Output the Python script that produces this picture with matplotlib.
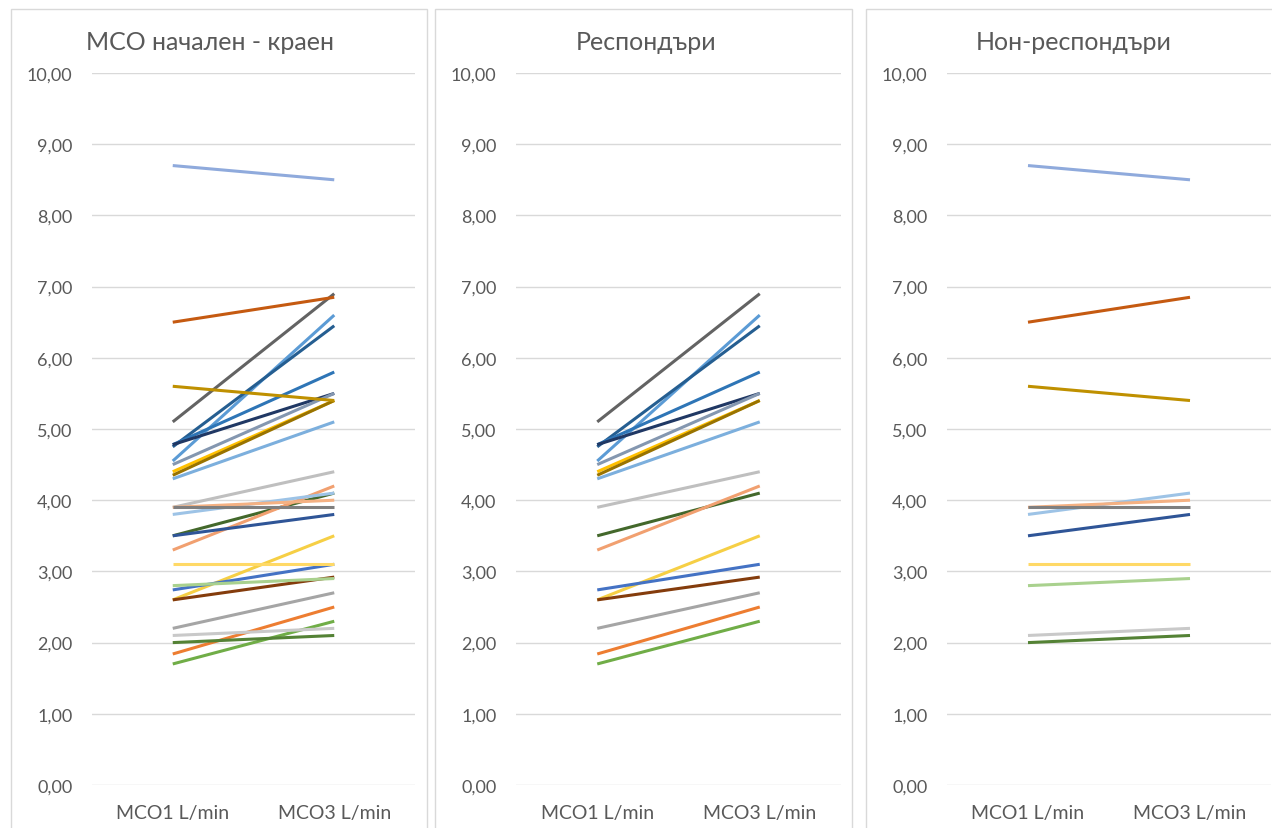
import matplotlib
matplotlib.use("Agg")
import matplotlib.pyplot as plt
from matplotlib.patches import Rectangle
from matplotlib.ticker import FuncFormatter

plt.rcParams['font.family'] = ['Lato', 'Noto Sans', 'DejaVu Sans']

# ---- data ----
categories = ["MCO1 L/min", "MCO3 L/min"]

# responders: start (MCO1) and end (MCO3) values
resp_mco1 = [5.10, 4.55, 4.75, 4.78, 4.78, 4.50, 4.40, 4.35, 4.30,
             3.90, 3.50, 3.30, 2.60, 2.74, 2.60, 2.20, 1.84, 1.70]
resp_mco3 = [6.90, 6.60, 6.45, 5.80, 5.50, 5.50, 5.40, 5.40, 5.10,
             4.40, 4.10, 4.20, 3.50, 3.10, 2.92, 2.70, 2.50, 2.30]
resp_colors = ["#636363", "#5B9BD5", "#255E91", "#2E75B6", "#203864", "#8497B0",
               "#FFC000", "#997300", "#7CAFDD", "#BFBFBF", "#43682B", "#F1A070",
               "#F6CF45", "#4472C4", "#843C0C", "#A5A5A5", "#ED7D31", "#70AD47"]

# non-responders
non_mco1 = [8.70, 6.50, 5.60, 3.80, 3.90, 3.90, 3.50, 3.10, 2.80, 2.10, 2.00]
non_mco3 = [8.50, 6.85, 5.40, 4.10, 4.00, 3.90, 3.80, 3.10, 2.90, 2.20, 2.10]
non_colors = ["#8FAADC", "#C55A11", "#BF9000", "#9DC3E6", "#F4B183", "#7F7F7F",
              "#2F5597", "#FFD966", "#A9D18E", "#C9C9C9", "#548235"]

titles = ["МСО начален - краен", "Респондъри", "Нон-респондъри"]
y_ticks = [0, 1, 2, 3, 4, 5, 6, 7, 8, 9, 10]

# ---- layout (pixels) ----
W, H = 1272, 829
fig = plt.figure(figsize=(W / 100, H / 100), dpi=100)
fig.patch.set_facecolor("white")

text_col = "#595959"
grid_col = "#D9D9D9"

panels = [(11, 427), (435, 852), (866, 1290)]
plot_x = [(92, 415), (516, 841), (947, 1271)]
title_x = [210, 646, 1074]
top_px, bot_px = 74, 786

for (px0, px1) in panels:
    fig.patches.append(Rectangle((px0 / W, -0.05), (px1 - px0) / W, (H - 10) / H + 0.05,
                                 transform=fig.transFigure, facecolor="none",
                                 edgecolor=grid_col, lw=1.0, zorder=0))

series_sets = [
    (resp_mco1 + non_mco1, resp_mco3 + non_mco3, resp_colors + non_colors),
    (resp_mco1, resp_mco3, resp_colors),
    (non_mco1, non_mco3, non_colors),
]

fmt = FuncFormatter(lambda v, _: f"{v:.2f}".replace(".", ","))

for i, ((x0, x1), (s1, s3, cols)) in enumerate(zip(plot_x, series_sets)):
    ax = fig.add_axes([x0 / W, (H - bot_px) / H, (x1 - x0) / W, (bot_px - top_px) / H])
    ax.set_facecolor("none")
    for a, b, c in zip(s1, s3, cols):
        ax.plot([0, 1], [a, b], color=c, lw=2.2, solid_capstyle="butt", zorder=3)
    ax.set_xlim(-0.5, 1.5)
    ax.set_ylim(0, 10)
    ax.set_yticks(y_ticks)
    ax.yaxis.set_major_formatter(fmt)
    ax.set_xticks([0, 1])
    ax.set_xticklabels(categories)
    ax.grid(axis="y", color=grid_col, lw=1.0, zorder=0)
    ax.set_axisbelow(True)
    for s in ax.spines.values():
        s.set_visible(False)
    ax.tick_params(axis="y", length=0, pad=14, labelsize=13, labelcolor=text_col)
    ax.tick_params(axis="x", length=0, pad=14, labelsize=14, labelcolor=text_col)
    fig.text(title_x[i] / W, 1 - 42 / H, titles[i], ha="center", va="center",
             fontsize=18, color=text_col)

fig.savefig("out.png", dpi=100, facecolor="white")
